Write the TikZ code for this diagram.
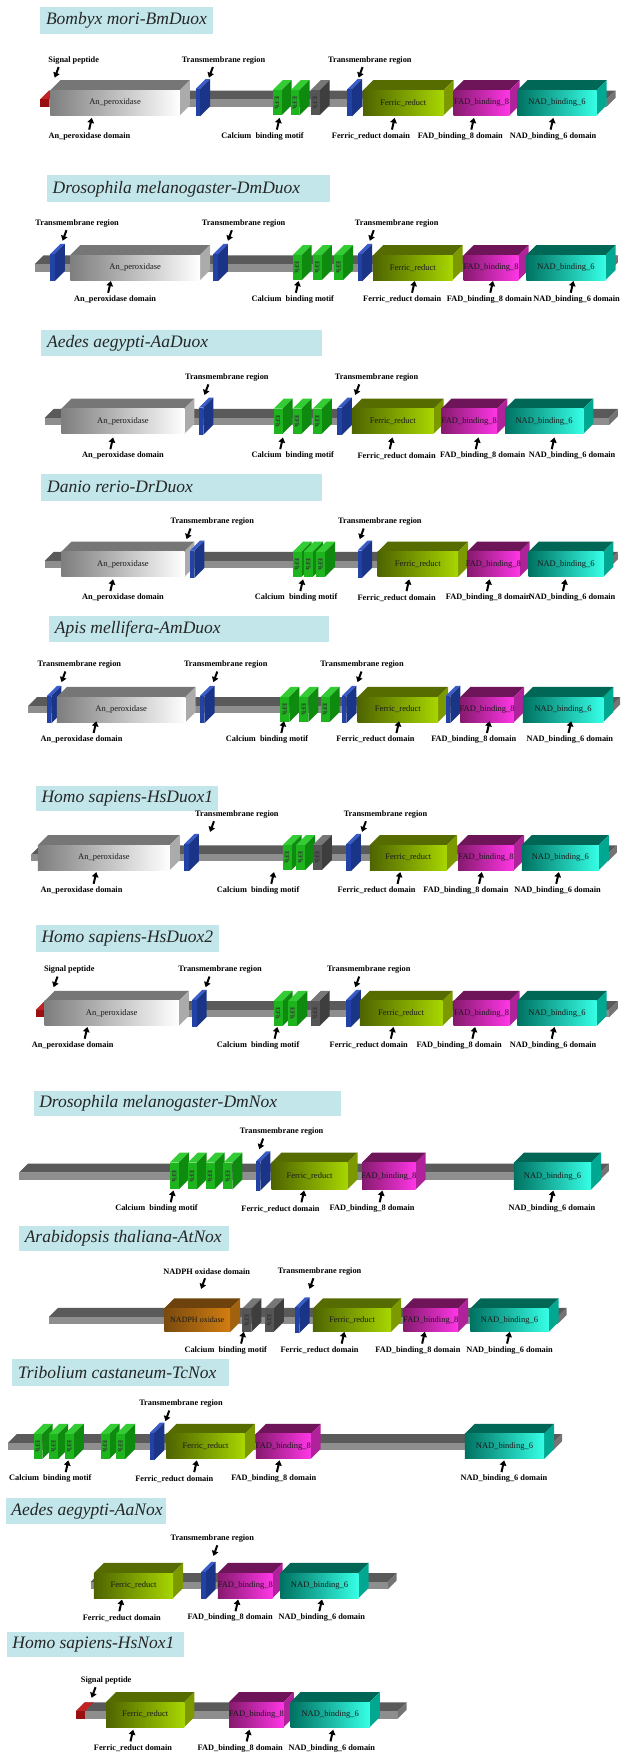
\documentclass[tikz,border=0pt]{standalone}
\usepackage{fontspec}
\setmainfont{Liberation Serif}
\usetikzlibrary{arrows.meta}

% colours of the parts
\definecolor{titlebg}{HTML}{C2E6EA}
\definecolor{barT}{HTML}{5A5A5A}
\definecolor{barF}{HTML}{8E8E8E}
\definecolor{barS}{HTML}{747474}
\definecolor{sigT}{HTML}{C42222}
\definecolor{sigF}{HTML}{9A1010}
\definecolor{anpL}{HTML}{7E7E7E}
\definecolor{anpR}{HTML}{FFFFFF}
\definecolor{anpT}{HTML}{767676}
\definecolor{anpS}{HTML}{ABABAB}
\definecolor{ferL}{HTML}{4E6400}
\definecolor{ferR}{HTML}{A8D600}
\definecolor{ferT}{HTML}{566C00}
\definecolor{ferS}{HTML}{7C9A00}
\definecolor{fadL}{HTML}{861A6E}
\definecolor{fadR}{HTML}{FF36E6}
\definecolor{fadT}{HTML}{6E1458}
\definecolor{fadS}{HTML}{B0229A}
\definecolor{nadL}{HTML}{007262}
\definecolor{nadR}{HTML}{36FFE6}
\definecolor{nadT}{HTML}{006656}
\definecolor{nadS}{HTML}{00A892}
\definecolor{noxL}{HTML}{7A4A0E}
\definecolor{noxR}{HTML}{D27E10}
\definecolor{noxT}{HTML}{6E420C}
\definecolor{noxS}{HTML}{A0620E}
\definecolor{tmF}{HTML}{2242A6}
\definecolor{tmS}{HTML}{1A3488}
\definecolor{tmT}{HTML}{3A5CC8}
\definecolor{efgF}{HTML}{1EB41E}
\definecolor{efgS}{HTML}{0E8A0E}
\definecolor{efgT}{HTML}{34CC34}
\definecolor{efkF}{HTML}{555555}
\definecolor{efkS}{HTML}{3E3E3E}
\definecolor{efkT}{HTML}{777777}

\def\dd{9}     % depth of the boxes
\def\hh{11.2}  % half height of a domain
\newcounter{obj}

% grey backbone: x1, x2, yc
\newcommand{\backbone}[3]{%
  \fill[barT] (#1,#3-3) -- (#1+8,#3-11) -- (#2+8,#3-11) -- (#2,#3-3) -- cycle;
  \fill[barS] (#2,#3-3) -- (#2+8,#3-11) -- (#2+8,#3-4.5) -- (#2,#3+3.5) -- cycle;
  \fill[barF] (#1,#3-3) rectangle (#2,#3+3.5);
}
% signal peptide: x, yc
\newcommand{\sigpep}[2]{%
  \fill[sigT] (#1,#2-3) -- (#1+8,#2-11) -- (#1+16,#2-11) -- (#1+8,#2-3) -- cycle;
  \fill[sigF] (#1,#2-3) rectangle (#1+8,#2+3.5);
}
% domain box: colour key, x1, x2, yc, text
\newcommand{\dombox}[5]{%
  \stepcounter{obj}
  \fill[#1T] (#2,#4-\hh) -- (#2+\dd,#4-\hh-\dd) -- (#3+\dd,#4-\hh-\dd) -- (#3,#4-\hh) -- cycle;
  \fill[#1S] (#3,#4-\hh) -- (#3+\dd,#4-\hh-\dd) -- (#3+\dd,#4+\hh-\dd) -- (#3,#4+\hh) -- cycle;
  \shade[left color=#1L, right color=#1R] (#2,#4-\hh) rectangle (#3,#4+\hh);
  \node[domtext] (dom\theobj) at ({(#2+#3)/2},#4) {#5};
}
% transmembrane slab: x, yc
\newcommand{\tmreg}[2]{%
  \fill[tmT] (#1,#2-\hh-1) -- (#1+\dd,#2-\hh-1-\dd) -- (#1+4+\dd,#2-\hh-1-\dd) -- (#1+4,#2-\hh-1) -- cycle;
  \fill[tmS] (#1+4,#2-\hh-1) -- (#1+4+\dd,#2-\hh-1-\dd) -- (#1+4+\dd,#2+\hh+1-\dd) -- (#1+4,#2+\hh+1) -- cycle;
  \fill[tmF] (#1,#2-\hh-1) rectangle (#1+4,#2+\hh+1);
}
% EF hand slab: colour key, x, yc
\newcommand{\efh}[3]{%
  \stepcounter{obj}
  \fill[#1T] (#2,#3-\hh) -- (#2+\dd,#3-\hh-\dd) -- (#2+8+\dd,#3-\hh-\dd) -- (#2+8,#3-\hh) -- cycle;
  \fill[#1S] (#2+8,#3-\hh) -- (#2+8+\dd,#3-\hh-\dd) -- (#2+8+\dd,#3+\hh-\dd) -- (#2+8,#3+\hh) -- cycle;
  \fill[#1F] (#2,#3-\hh) rectangle (#2+8,#3+\hh);
  \node[eftext] (ef\theobj) at (#2+4,#3) {EFh};
}
% title band: x1, y1, x2, y2, text
\newcommand{\gtitle}[5]{%
  \stepcounter{obj}
  \fill[titlebg] (#1,#2) rectangle (#3,#4);
  \node[titletext, anchor=west] (title\theobj) at (#1+5,{(#2+#4)/2}) {#5};
}
% label above with arrow down: x, y, tip x, text
\newcommand{\toplab}[4]{%
  \stepcounter{obj}
  \node[lab] (lab\theobj) at (#1,#2) {#4};
  \coordinate (tail\theobj) at (#3+3.5,#2+6);
  \coordinate (tip\theobj) at (#3,#2+15.5);
  \draw[pointer] (tail\theobj) -- (tip\theobj);
}
% label below with arrow up: x, y, arrow x, text
\newcommand{\botlab}[4]{%
  \stepcounter{obj}
  \node[lab] (lab\theobj) at (#1,#2) {#4};
  \coordinate (tail\theobj) at (#3-1.2,#2-6);
  \coordinate (tip\theobj) at (#3+1.2,#2-16.5);
  \draw[pointer] (tail\theobj) -- (tip\theobj);
}

\begin{document}
\begin{tikzpicture}[x=1.117pt, y=-1.117pt,
  lab/.style={font=\bfseries\fontsize{8.3}{9}\selectfont, inner sep=0pt},
  domtext/.style={font=\fontsize{8.5}{9}\selectfont, text=black!90, inner sep=0pt},
  eftext/.style={font=\bfseries\fontsize{6.5}{7}\selectfont, text=black!80, rotate=-90, inner sep=0pt},
  titletext/.style={font=\itshape\fontsize{17.5}{20}\selectfont, text=black!85, inner sep=0pt},
  pointer/.style={line width=2pt, -{Triangle[length=5pt,width=6.5pt]}}]
  \fill[white] (0,0) rectangle (555,1568);
  \useasboundingbox (0,0) rectangle (555,1568);

  % Bombyx mori
  \gtitle{36}{6}{191}{30}{Bombyx mori-BmDuox}
  \backbone{36}{543}{92}
  \sigpep{36}{92}
  \dombox{anp}{45}{161}{92}{An\_peroxidase}
  \tmreg{175}{92}
  \efh{efg}{244}{92}
  \efh{efg}{260}{92}
  \efh{efk}{278}{92}
  \tmreg{311}{92}
  \dombox{fer}{325}{397}{92}{Ferric\_reduct}
  \dombox{fad}{406}{456}{92}{FAD\_binding\_8}
  \dombox{nad}{463}{534}{92}{NAD\_binding\_6}
  \toplab{66}{54}{49}{Signal peptide}
  \toplab{200}{54}{187}{Transmembrane region}
  \toplab{331}{54}{321}{Transmembrane region}
  \botlab{80}{122}{81}{An\_peroxidase domain}
  \botlab{235}{122}{249}{Calcium\ \ binding motif}
  \botlab{332}{122}{352}{Ferric\_reduct domain}
  \botlab{412}{122}{423}{FAD\_binding\_8 domain}
  \botlab{495}{122}{494}{NAD\_binding\_6 domain}

  % Drosophila Duox
  \gtitle{42}{157}{295}{181}{Drosophila melanogaster-DmDuox}
  \backbone{31}{545}{239.5}
  \tmreg{45}{239.5}
  \dombox{anp}{63}{179}{239.5}{An\_peroxidase}
  \tmreg{191}{239.5}
  \efh{efg}{262}{239.5}
  \efh{efg}{280}{239.5}
  \efh{efg}{299}{239.5}
  \tmreg{320}{239.5}
  \dombox{fer}{334}{405}{239.5}{Ferric\_reduct}
  \dombox{fad}{415}{464}{239.5}{FAD\_binding\_8}
  \dombox{nad}{471}{542}{239.5}{NAD\_binding\_6}
  \toplab{69}{200}{56}{Transmembrane region}
  \toplab{218}{200}{204}{Transmembrane region}
  \toplab{355}{200}{331}{Transmembrane region}
  \botlab{103}{268}{98}{An\_peroxidase domain}
  \botlab{262}{268}{266}{Calcium\ \ binding motif}
  \botlab{360}{268}{370}{Ferric\_reduct domain}
  \botlab{438}{268}{440}{FAD\_binding\_8 domain}
  \botlab{516}{268}{512}{NAD\_binding\_6 domain}

  % Aedes Duox
  \gtitle{37}{295}{288}{319}{Aedes aegypti-AaDuox}
  \backbone{40}{545}{377}
  \dombox{anp}{55}{165}{377}{An\_peroxidase}
  \tmreg{178}{377}
  \efh{efg}{245}{377}
  \efh{efg}{262}{377}
  \efh{efg}{280}{377}
  \tmreg{302}{377}
  \dombox{fer}{315}{388}{377}{Ferric\_reduct}
  \dombox{fad}{395}{445}{377}{FAD\_binding\_8}
  \dombox{nad}{452}{522}{377}{NAD\_binding\_6}
  \toplab{203}{338}{183}{Transmembrane region}
  \toplab{337}{338}{318}{Transmembrane region}
  \botlab{110}{408}{100}{An\_peroxidase domain}
  \botlab{262}{408}{252}{Calcium\ \ binding motif}
  \botlab{355}{408}{350}{Ferric\_reduct domain}
  \botlab{432}{408}{427}{FAD\_binding\_8 domain}
  \botlab{512}{408}{495}{NAD\_binding\_6 domain}

  % Danio
  \gtitle{37}{424}{288}{448}{Danio rerio-DrDuox}
  \backbone{40}{545}{505}
  \dombox{anp}{55}{165}{505}{An\_peroxidase}
  \tmreg{170}{505}
  \efh{efg}{262}{505}
  \efh{efg}{272}{505}
  \efh{efg}{283}{505}
  \tmreg{320}{505}
  \dombox{fer}{338}{410}{505}{Ferric\_reduct}
  \dombox{fad}{418}{465}{505}{FAD\_binding\_8}
  \dombox{nad}{473}{540}{505}{NAD\_binding\_6}
  \toplab{190}{467}{167}{Transmembrane region}
  \toplab{340}{467}{322}{Transmembrane region}
  \botlab{110}{535}{100}{An\_peroxidase domain}
  \botlab{265}{535}{270}{Calcium\ \ binding motif}
  \botlab{355}{535}{365}{Ferric\_reduct domain}
  \botlab{437}{535}{437}{FAD\_binding\_8 domain}
  \botlab{512}{535}{505}{NAD\_binding\_6 domain}

  % Apis
  \gtitle{44}{551}{294}{575}{Apis mellifera-AmDuox}
  \backbone{25}{547}{635}
  \tmreg{42}{635}
  \dombox{anp}{51}{166}{635}{An\_peroxidase}
  \tmreg{179}{635}
  \efh{efg}{251}{635}
  \efh{efg}{268}{635}
  \efh{efg}{287}{635}
  \tmreg{306}{635}
  \dombox{fer}{320}{392}{635}{Ferric\_reduct}
  \tmreg{399}{635}
  \dombox{fad}{412}{460}{635}{FAD\_binding\_8}
  \dombox{nad}{468}{540}{635}{NAD\_binding\_6}
  \toplab{71}{595}{55}{Transmembrane region}
  \toplab{202}{595}{191}{Transmembrane region}
  \toplab{324}{595}{320}{Transmembrane region}
  \botlab{73}{662}{85}{An\_peroxidase domain}
  \botlab{239}{662}{253}{Calcium\ \ binding motif}
  \botlab{336}{662}{356}{Ferric\_reduct domain}
  \botlab{424}{662}{437}{FAD\_binding\_8 domain}
  \botlab{510}{662}{510}{NAD\_binding\_6 domain}

  % Homo Duox1
  \gtitle{32}{703}{195}{726}{Homo sapiens-HsDuox1}
  \backbone{28}{544}{767.5}
  \dombox{anp}{34}{152}{767.5}{An\_peroxidase}
  \tmreg{165}{767.5}
  \efh{efg}{253}{767.5}
  \efh{efg}{265}{767.5}
  \efh{efk}{280}{767.5}
  \tmreg{310}{767.5}
  \dombox{fer}{331}{400}{767.5}{Ferric\_reduct}
  \dombox{fad}{410}{460}{767.5}{FAD\_binding\_8}
  \dombox{nad}{467}{536}{767.5}{NAD\_binding\_6}
  \toplab{212}{729}{188}{Transmembrane region}
  \toplab{345}{729}{324}{Transmembrane region}
  \botlab{73}{797}{85}{An\_peroxidase domain}
  \botlab{231}{797}{244}{Calcium\ \ binding motif}
  \botlab{337}{797}{357}{Ferric\_reduct domain}
  \botlab{417}{797}{430}{FAD\_binding\_8 domain}
  \botlab{499}{797}{499}{NAD\_binding\_6 domain}

  % Homo Duox2
  \gtitle{32}{828}{196}{852}{Homo sapiens-HsDuox2}
  \backbone{32}{545}{907}
  \sigpep{32}{907}
  \dombox{anp}{40}{160}{907}{An\_peroxidase}
  \tmreg{172}{907}
  \efh{efg}{245}{907}
  \efh{efg}{258}{907}
  \efh{efk}{278}{907}
  \tmreg{310}{907}
  \dombox{fer}{322}{396}{907}{Ferric\_reduct}
  \dombox{fad}{406}{456}{907}{FAD\_binding\_8}
  \dombox{nad}{463}{534}{907}{NAD\_binding\_6}
  \toplab{62}{868}{48}{Signal peptide}
  \toplab{197}{868}{184}{Transmembrane region}
  \toplab{330}{868}{318}{Transmembrane region}
  \botlab{65}{935.6}{77}{An\_peroxidase domain}
  \botlab{231}{935.6}{247}{Calcium\ \ binding motif}
  \botlab{330}{935.6}{351}{Ferric\_reduct domain}
  \botlab{411}{935.6}{424}{FAD\_binding\_8 domain}
  \botlab{495}{935.6}{495}{NAD\_binding\_6 domain}

  % Drosophila Nox
  \def\hh{12}
  \gtitle{30}{976}{305}{999}{Drosophila melanogaster-DmNox}
  \backbone{17}{537}{1052.5}
  \efh{efg}{152}{1052.5}
  \efh{efg}{168}{1052.5}
  \efh{efg}{184}{1052.5}
  \efh{efg}{200}{1052.5}
  \tmreg{229}{1052.5}
  \dombox{fer}{243}{311}{1052.5}{Ferric\_reduct}
  \dombox{fad}{324}{372}{1052.5}{FAD\_binding\_8}
  \dombox{nad}{460}{529}{1052.5}{NAD\_binding\_6}
  \toplab{252}{1013}{232}{Transmembrane region}
  \botlab{140}{1082}{154}{Calcium\ \ binding motif}
  \botlab{251}{1082}{271}{Ferric\_reduct domain}
  \botlab{333}{1082}{341}{FAD\_binding\_8 domain}
  \botlab{494}{1082}{494}{NAD\_binding\_6 domain}

  % Arabidopsis
  \def\hh{10.5}
  \gtitle{17}{1097}{205}{1120}{Arabidopsis thaliana-AtNox}
  \backbone{44}{499}{1181.5}
  \dombox{nox}{147}{206}{1181.5}{\fontsize{8}{9}\selectfont NADPH oxidase}
  \efh{efk}{217}{1181.5}
  \efh{efk}{237}{1181.5}
  \tmreg{264}{1181.5}
  \dombox{fer}{280}{350}{1181.5}{Ferric\_reduct}
  \dombox{fad}{361}{410}{1181.5}{FAD\_binding\_8}
  \dombox{nad}{421}{491}{1181.5}{NAD\_binding\_6}
  \toplab{185}{1138}{180}{NADPH oxidase domain}
  \toplab{286}{1138}{277}{Transmembrane region}
  \botlab{202}{1208.5}{217}{Calcium\ \ binding motif}
  \botlab{286}{1208.5}{307}{Ferric\_reduct domain}
  \botlab{374}{1208.5}{379}{FAD\_binding\_8 domain}
  \botlab{456}{1208.5}{455}{NAD\_binding\_6 domain}

  % Tribolium
  \def\hh{11.2}
  \gtitle{11}{1216}{205}{1240}{Tribolium castaneum-TcNox}
  \backbone{7}{495}{1294.5}
  \efh{efg}{30}{1294.5}
  \efh{efg}{44}{1294.5}
  \efh{efg}{58}{1294.5}
  \efh{efg}{90}{1294.5}
  \efh{efg}{104}{1294.5}
  \tmreg{134}{1294.5}
  \dombox{fer}{149}{219}{1294.5}{Ferric\_reduct}
  \dombox{fad}{229}{278}{1294.5}{FAD\_binding\_8}
  \dombox{nad}{416}{487}{1294.5}{NAD\_binding\_6}
  \toplab{162}{1256.4}{148}{Transmembrane region}
  \botlab{45}{1323.5}{60}{Calcium\ \ binding motif}
  \botlab{156}{1323.5}{175}{Ferric\_reduct domain}
  \botlab{245}{1323.5}{249}{FAD\_binding\_8 domain}
  \botlab{451}{1323.5}{450}{NAD\_binding\_6 domain}

  % Aedes Nox
  \gtitle{5}{1341}{149}{1364}{Aedes aegypti-AaNox}
  \backbone{81}{347}{1419}
  \dombox{fer}{84}{155}{1419}{Ferric\_reduct}
  \tmreg{180}{1419}
  \dombox{fad}{195}{244}{1419}{FAD\_binding\_8}
  \dombox{nad}{251}{321}{1419}{NAD\_binding\_6}
  \toplab{190}{1377}{191}{Transmembrane region}
  \botlab{109}{1448}{108}{Ferric\_reduct domain}
  \botlab{206}{1448}{212}{FAD\_binding\_8 domain}
  \botlab{288}{1448}{287}{NAD\_binding\_6 domain}

  % Homo Nox1
  \gtitle{6}{1461}{165}{1483}{Homo sapiens-HsNox1}
  \backbone{68}{356}{1534.5}
  \sigpep{68}{1534.5}
  \dombox{fer}{95}{165}{1534.5}{Ferric\_reduct}
  \dombox{fad}{205}{254}{1534.5}{FAD\_binding\_8}
  \dombox{nad}{260}{331}{1534.5}{NAD\_binding\_6}
  \toplab{95}{1504}{82}{Signal peptide}
  \botlab{119}{1564.5}{118}{Ferric\_reduct domain}
  \botlab{215}{1564.5}{222}{FAD\_binding\_8 domain}
  \botlab{297}{1564.5}{297}{NAD\_binding\_6 domain}
\end{tikzpicture}
\end{document}
